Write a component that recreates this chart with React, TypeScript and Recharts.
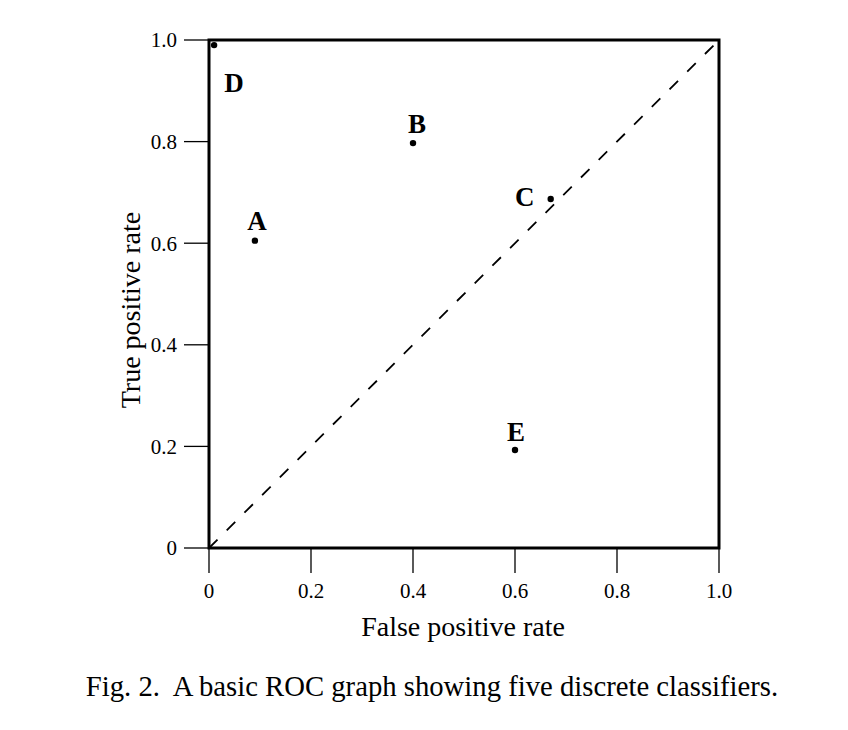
import React from 'react';
import {
  ScatterChart,
  Scatter,
  XAxis,
  YAxis,
  ReferenceLine,
  ReferenceArea,
  Label,
} from 'recharts';

// classifiers
const classifierNames = ['A', 'B', 'C', 'D', 'E'];
const fprValues = [0.09, 0.4, 0.67, 0.01, 0.6];
const tprValues = [0.605, 0.797, 0.687, 0.99, 0.193];

const axisTicks = [0, 0.2, 0.4, 0.6, 0.8, 1.0];
const axisTickLabels = ['0', '0.2', '0.4', '0.6', '0.8', '1.0'];

const diagonal = [
  { x: 0, y: 0 },
  { x: 1, y: 1 },
];

const points = classifierNames.map((name, i) => ({
  name,
  fpr: fprValues[i],
  tpr: tprValues[i],
}));

// where each letter sits relative to its dot
const labelOffset: Record<string, [number, number]> = {
  A: [2, -11],
  B: [4, -10],
  C: [-26, 7],
  D: [20, 47],
  E: [1, -9],
};

const serif = '"Liberation Serif", "Times New Roman", serif';

const fmtTick = (v: number) => axisTickLabels[axisTicks.indexOf(v)] ?? String(v);

const ClassifierDot = (props: any) => {
  const { cx, cy, payload } = props;
  const [dx, dy] = labelOffset[payload.name] || [0, -10];
  return (
    <g>
      <circle cx={cx} cy={cy} r={3.2} fill="#000" />
      <text
        x={cx + dx}
        y={cy + dy}
        textAnchor="middle"
        fontFamily={serif}
        fontWeight="bold"
        fontSize={27}
        fill="#000"
      >
        {payload.name}
      </text>
    </g>
  );
};

export default function App() {
  return (
    <div style={{ position: 'absolute', left: 0, top: 0, width: 848, height: 730, background: '#fff' }}>
      <ScatterChart width={848} height={730} margin={{ top: 40, right: 129, bottom: 80, left: 0 }}>
        <XAxis
          type="number"
          dataKey="fpr"
          domain={[0, 1]}
          ticks={axisTicks}
          interval={0}
          tickFormatter={fmtTick}
          axisLine={false}
          tickLine={{ stroke: '#000', strokeWidth: 1.3 }}
          tickSize={25}
          tickMargin={10}
          tick={{ fill: '#000', fontSize: 21, fontFamily: serif }}
          height={102}
        >
          <Label
            content={({ viewBox }: any) => (
              <text
                x={viewBox.x + viewBox.width / 2 - 1}
                y={viewBox.y + 88}
                textAnchor="middle"
                fontFamily={serif}
                fontSize={28}
                fill="#000"
              >
                False positive rate
              </text>
            )}
          />
        </XAxis>
        <YAxis
          type="number"
          dataKey="tpr"
          domain={[0, 1]}
          ticks={axisTicks}
          interval={0}
          tickFormatter={fmtTick}
          axisLine={false}
          tickLine={{ stroke: '#000', strokeWidth: 1.3 }}
          tickSize={25}
          tickMargin={7}
          tick={{ fill: '#000', fontSize: 21, fontFamily: serif }}
          width={209}
        >
          <Label
            content={({ viewBox }: any) => {
              const x = viewBox.x + 140;
              const y = viewBox.y + viewBox.height / 2 + 16;
              return (
                <text
                  x={x}
                  y={y}
                  transform={`rotate(-90, ${x}, ${y})`}
                  textAnchor="middle"
                  fontFamily={serif}
                  fontSize={28}
                  fill="#000"
                >
                  True positive rate
                </text>
              );
            }}
          />
        </YAxis>
        <ReferenceLine
          segment={diagonal}
          stroke="#000"
          strokeWidth={1.8}
          strokeDasharray="12 13"
        />
        <ReferenceArea x1={0} x2={1} y1={0} y2={1} fill="none" stroke="#000" strokeWidth={3} />
        <Scatter data={points} shape={ClassifierDot} isAnimationActive={false} />
      </ScatterChart>
      <div
        style={{
          position: 'absolute',
          left: 0,
          width: 864,
          top: 670,
          textAlign: 'center',
          fontFamily: serif,
          fontSize: 28.7,
          color: '#000',
          whiteSpace: 'pre',
        }}
      >
        {'Fig. 2.  A basic ROC graph showing five discrete classifiers.'}
      </div>
    </div>
  );
}
